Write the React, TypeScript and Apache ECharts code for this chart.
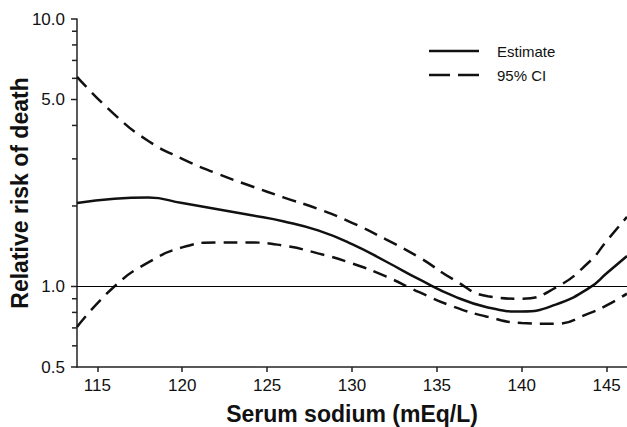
import React, { useEffect, useRef } from "react";
import * as echarts from "echarts";

// Serum sodium (mEq/L) sample points
const sodium = [113.8, 116, 118, 120, 122, 124, 126, 128, 130, 132, 134, 136, 138, 140, 142, 144, 145, 146.2];
// Relative risk of death
const estimate = [2.05, 2.13, 2.15, 2.05, 1.95, 1.85, 1.75, 1.62, 1.44, 1.24, 1.06, 0.92, 0.835, 0.806, 0.855, 0.99, 1.12, 1.3];
const ciUpper = [6.08, 4.4, 3.5, 3.0, 2.65, 2.38, 2.15, 1.95, 1.73, 1.5, 1.28, 1.06, 0.92, 0.9, 0.99, 1.24, 1.48, 1.82];
const ciLower = [0.706, 1.0, 1.23, 1.4, 1.46, 1.46, 1.42, 1.33, 1.22, 1.09, 0.95, 0.84, 0.77, 0.73, 0.725, 0.795, 0.85, 0.94];

const xTicks = [115, 120, 125, 130, 135, 140, 145];
const yMajorTicks = [0.5, 1, 5, 10];
const yMinorTicks = [0.6, 0.7, 0.8, 0.9, 2, 3, 4, 6, 7, 8, 9];
const legendNames = ["Estimate", "95% CI"];

const FONT = "'Liberation Sans', Arial, Helvetica, sans-serif";
const INK = "#111";
const DASH = [14, 8];
const X_MIN = 113.8;
const X_MAX = 146.2;

export default function App() {
  const ref = useRef<HTMLDivElement>(null);
  useEffect(() => {
    if (!ref.current) return;
    const chart = echarts.init(ref.current, undefined, { renderer: "svg" });
    const pairs = (ys: number[]) => sodium.map((x, i) => [x, ys[i]]);
    const axisLineStyle = { color: "#222", width: 1.5 };
    const legendGraphics = [
      { id: "lg-l1", type: "line", shape: { x1: 429, y1: 51, x2: 479, y2: 51 }, style: { stroke: INK, lineWidth: 2.5 } },
      {
        id: "lg-t1", type: "text", x: 497, y: 51,
        style: { text: legendNames[0], fontSize: 15, fontFamily: FONT, fill: "#111", verticalAlign: "middle" },
      },
      { id: "lg-l2", type: "line", shape: { x1: 429, y1: 75, x2: 479, y2: 75 }, style: { stroke: INK, lineWidth: 2.5, lineDash: [21, 8] } },
      {
        id: "lg-t2", type: "text", x: 497, y: 75,
        style: { text: legendNames[1], fontSize: 15, fontFamily: FONT, fill: "#111", verticalAlign: "middle" },
      },
    ];
    chart.setOption({
      animation: false,
      backgroundColor: "#fff",
      textStyle: { fontFamily: FONT },
      grid: { left: 77, right: 0, top: 19, bottom: 60, containLabel: false, outerBoundsMode: "none" },
      graphic: legendGraphics,
      xAxis: {
        type: "value",
        min: X_MIN,
        max: X_MAX,
        axisLine: { onZero: false, lineStyle: axisLineStyle },
        axisTick: { customValues: xTicks, length: 5, lineStyle: axisLineStyle },
        axisLabel: { customValues: xTicks, margin: 10, fontSize: 17, color: "#111", fontFamily: FONT },
        splitLine: { show: false },
        name: "Serum sodium (mEq/L)",
        nameLocation: "middle",
        nameGap: 35,
        nameMoveOverlap: false,
        nameTextStyle: { fontSize: 23, fontWeight: "bold", color: "#111", fontFamily: FONT },
      },
      yAxis: {
        type: "log",
        logBase: 10,
        min: 0.5,
        max: 10,
        axisLine: { show: true, onZero: false, lineStyle: axisLineStyle },
        axisTick: { show: false },
        axisLabel: {
          customValues: yMajorTicks,
          margin: 12,
          fontSize: 17,
          color: "#111",
          fontFamily: FONT,
          formatter: (v: number) => Number(v).toFixed(1),
        },
        splitLine: { show: false },
        name: "Relative risk of death",
        nameLocation: "middle",
        nameGap: 46,
        nameMoveOverlap: false,
        nameTextStyle: { fontSize: 23, fontWeight: "bold", color: "#111", fontFamily: FONT },
      },
      series: [
        {
          name: legendNames[0],
          type: "line",
          data: pairs(estimate),
          symbol: "none",
          smooth: 0.5,
          color: INK,
          lineStyle: { color: INK, width: 2.5, type: "solid" },
          z: 3,
          markLine: {
            silent: true,
            symbol: ["none", "none"],
            label: { show: false },
            lineStyle: { color: "#000", width: 1, type: "solid" },
            data: [{ yAxis: 1 }],
          },
        },
        {
          name: legendNames[1],
          type: "line",
          data: pairs(ciUpper),
          symbol: "none",
          smooth: 0.5,
          color: INK,
          lineStyle: { color: INK, width: 2.5, type: DASH },
        },
        {
          name: legendNames[1],
          type: "line",
          data: pairs(ciLower),
          symbol: "none",
          smooth: 0.5,
          color: INK,
          lineStyle: { color: INK, width: 2.5, type: DASH },
        },
      ],
    });
    // y-axis tick marks, positioned through the chart's log scale
    const axisX = Number(chart.convertToPixel({ xAxisIndex: 0 }, X_MIN));
    const tickGraphics = [
      ...yMajorTicks.map((v) => ({ v, len: 6 })),
      ...yMinorTicks.map((v) => ({ v, len: 5 })),
    ].map((t, i) => {
      const y = Number(chart.convertToPixel({ yAxisIndex: 0 }, t.v));
      return {
        id: "ytick-" + i,
        type: "line",
        z: 100,
        shape: { x1: axisX - t.len, y1: y, x2: axisX, y2: y },
        style: { stroke: "#222", lineWidth: 1.5 },
      };
    });
    chart.setOption({ graphic: [...legendGraphics, ...tickGraphics] });
    return () => chart.dispose();
  }, []);
  return (
    <div
      ref={ref}
      style={{ position: "fixed", left: 0, top: 0, width: 627, height: 427, background: "#fff" }}
    />
  );
}
